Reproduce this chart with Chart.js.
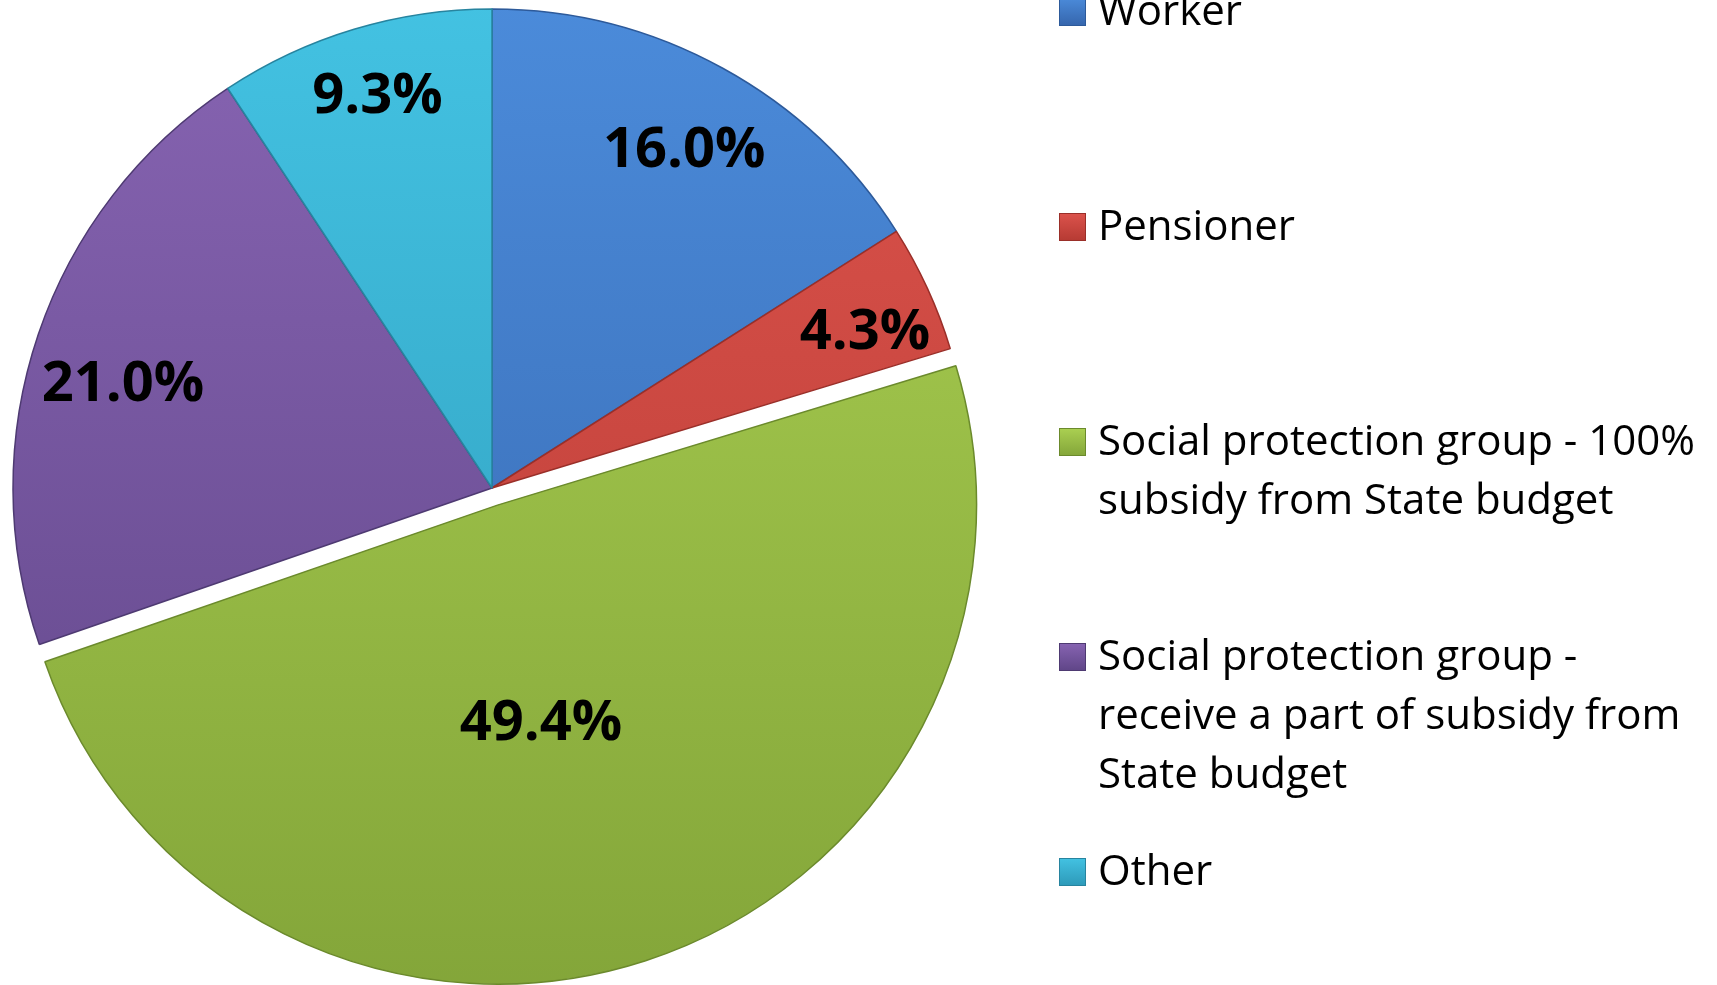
<!DOCTYPE html>
<html>
<head>
<meta charset="utf-8">
<script src="https://cdn.jsdelivr.net/npm/chart.js@4.4.0/dist/chart.umd.min.js"></script>
<style>
  html, body { margin: 0; padding: 0; background: #fff; }
  #wrap { width: 1717px; height: 985px; position: relative; }
</style>
</head>
<body>
<div id="wrap"><canvas id="pieChart"></canvas></div>
<script>
// Chart data
const categories = ['Worker', 'Pensioner', 'Social protection group - 100% subsidy from State budget',
    'Social protection group - receive a part of subsidy from State budget', 'Other'];
const shares = [16.0, 4.3, 49.4, 21.0, 9.3];
const valueLabels = ['16.0%', '4.3%', '49.4%', '21.0%', '9.3%'];
// legend text split the way it wraps in the picture
const legendLines = [
    ['Worker'],
    ['Pensioner'],
    ['Social protection group - 100%', 'subsidy from State budget'],
    ['Social protection group -', 'receive a part of subsidy from', 'State budget'],
    ['Other']
];

// colours: top / bottom of the gradient, edge
const topColors = ['#4b8bda', '#dc534c', '#abd052', '#8764b2', '#43c2e2'];
const bottomColors = ['#3565ac', '#b53a33', '#83a539', '#5f4587', '#2d99b8'];
const edgeColors = ['#2d5a9a', '#9a2f29', '#6b8a2c', '#4e3a72', '#27849f'];
// exploded slice: pixels moved out along the bisector (radius unchanged)
const sliceShift = [0, 0, 18, 0, 0];
// label placement: fraction of radius, and nudge from the bisector in degrees
const labelRadius = [0.81, 0.843, 0.466, 0.8, 0.85];
const labelNudge = [0.9, 2.1, 6.8, -3.1, 0.4];

function sliceGradient(ctx, i) {
    const chart = ctx.chart;
    if (!chart.chartArea) return topColors[i];
    const g = chart.ctx.createLinearGradient(0, 0, 0, 985);
    g.addColorStop(0, topColors[i]);
    g.addColorStop(1, bottomColors[i]);
    return g;
}

// draw the arcs ourselves so the pulled-out slice keeps its radius
const explodeSlices = {
    id: 'explodeSlices',
    beforeDatasetsDraw(chart) {
        const ctx = chart.ctx;
        chart.getDatasetMeta(0).data.forEach((arc, i) => {
            const mid = (arc.startAngle + arc.endAngle) / 2;
            ctx.save();
            ctx.translate(Math.cos(mid) * sliceShift[i], Math.sin(mid) * sliceShift[i]);
            arc.draw(ctx);
            ctx.restore();
        });
        return false;
    }
};

// percent labels and legend
const overlay = {
    id: 'overlay',
    afterDraw(chart) {
        const ctx = chart.ctx;
        const arcs = chart.getDatasetMeta(0).data;
        ctx.save();
        ctx.font = 'bold 56px "Open Sans", "Noto Sans", sans-serif';
        ctx.fillStyle = '#000';
        ctx.textAlign = 'center';
        ctx.textBaseline = 'middle';
        arcs.forEach((arc, i) => {
            const mid = (arc.startAngle + arc.endAngle) / 2;
            const cx = arc.x + Math.cos(mid) * sliceShift[i];
            const cy = arc.y + Math.sin(mid) * sliceShift[i];
            const a = mid + labelNudge[i] * Math.PI / 180;
            const r = arc.outerRadius * labelRadius[i];
            ctx.fillText(valueLabels[i], cx + Math.cos(a) * r, cy + Math.sin(a) * r);
        });

        // legend on the right, one entry every 215px
        ctx.font = '42px "Open Sans", "Noto Sans", sans-serif';
        ctx.textBaseline = 'alphabetic';
        ctx.textAlign = 'left';
        legendLines.forEach((lines, i) => {
            const base = 25 + i * 215;
            const g = ctx.createLinearGradient(0, base - 27, 0, base + 1);
            g.addColorStop(0, topColors[i]);
            g.addColorStop(1, bottomColors[i]);
            ctx.fillStyle = g;
            ctx.fillRect(1059, base - 27, 27, 28);
            ctx.strokeStyle = edgeColors[i];
            ctx.lineWidth = 1;
            ctx.strokeRect(1059.5, base - 26.5, 26, 27);
            ctx.fillStyle = '#000';
            lines.forEach((t, j) => ctx.fillText(t, 1098, base + j * 59));
        });
        ctx.restore();
    }
};

new Chart(document.getElementById('pieChart').getContext('2d'), {
    type: 'pie',
    data: {
        labels: categories,
        datasets: [{
            data: shares,
            backgroundColor: ctx => sliceGradient(ctx, ctx.dataIndex),
            borderColor: edgeColors,
            borderWidth: 1.5,
            hoverOffset: 0
        }]
    },
    options: {
        responsive: true,
        maintainAspectRatio: false,
        animation: false,
        radius: 479,
        layout: { padding: { left: 0, top: 0, right: 733, bottom: 9 } },
        plugins: {
            legend: { display: false },
            tooltip: { enabled: false }
        }
    },
    plugins: [explodeSlices, overlay]
});
</script>
</body>
</html>
